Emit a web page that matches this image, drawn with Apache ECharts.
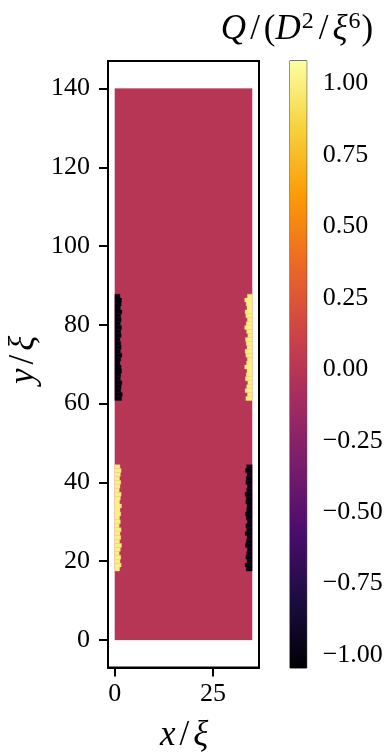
<!DOCTYPE html>
<html>
<head>
<meta charset="utf-8">
<script src="https://cdn.jsdelivr.net/npm/echarts@6/dist/echarts.min.js"></script>
<style>
html,body{margin:0;padding:0;background:#fff;}
#chart{width:387px;height:753px;}
</style>
</head>
<body>
<div id="chart"></div>
<script>
// ---- data ----
const domainX = [0, 35];
const domainY = [0, 140];
const backgroundQ = 0;
const xTicks = [0, 25];
const yTicks = [0, 20, 40, 60, 80, 100, 120, 140];
const cbarTicks = [-1.0, -0.75, -0.5, -0.25, 0.0, 0.25, 0.5, 0.75, 1.0];
const qRange = [-1.045, 1.079];
const rowHeight = 1;

// strips: start y, value, per-row widths (bottom to top)
const leftBlackY0 = 60.8;
const leftBlackQ = -1.0;
const leftBlackWidths = [1.7,1.9,1.5,1.6,1.8,1.4,1.5,1.7,1.6,1.3,1.5,1.8,1.4,1.6,1.5,1.3,1.6,1.5,1.7,1.4,1.6,1.5,1.8,1.4,1.6,1.7,1.3];
const rightYellowY0 = 60.8;
const rightYellowQ = 1.0;
const rightYellowWidths = [1.6,1.2,1.8,1.4,1.1,1.7,1.5,1.3,1.9,1.4,1.2,1.6,1.8,1.3,1.5,1.7,1.1,1.4,1.9,1.5,1.2,1.6,1.8,1.3,1.5,1.9,1.2];
const leftYellowY0 = 17.5;
const leftYellowQ = 1.0;
const leftYellowWidths = [1.2,1.6,1.3,1.5,1.1,1.4,1.7,1.2,1.5,1.3,1.6,1.1,1.4,1.2,1.5,1.3,1.7,1.2,1.4,1.6,1.1,1.3,1.5,1.2,1.4,1.6,1.3];
const rightBlackY0 = 17.5;
const rightBlackQ = -1.0;
const rightBlackWidths = [1.5,1.8,1.3,1.6,1.4,1.2,1.7,1.5,1.3,1.8,1.4,1.6,1.2,1.5,1.7,1.4,1.3,1.6,1.5,1.8,1.4,1.2,1.6,1.5,1.3,1.7,1.4];

const inferno = ['#000004','#1b0c41','#4a0c6b','#781c6d','#a52c60','#cf4446','#ed6925','#fb9b06','#f7d13d','#fcffa4'];

// ---- build cells [x0, x1, y0, y1, Q] ----
const cells = [[domainX[0], domainX[1], domainY[0], domainY[1], backgroundQ]];
function addStrip(y0, q, widths, side) {
  widths.forEach((w, i) => {
    const ya = y0 + i * rowHeight, yb = ya + rowHeight;
    if (side === 'left') cells.push([domainX[0], domainX[0] + w, ya, yb, q]);
    else cells.push([domainX[1] - w, domainX[1], ya, yb, q]);
  });
}
addStrip(leftBlackY0, leftBlackQ, leftBlackWidths, 'left');
addStrip(rightYellowY0, rightYellowQ, rightYellowWidths, 'right');
addStrip(leftYellowY0, leftYellowQ, leftYellowWidths, 'left');
addStrip(rightBlackY0, rightBlackQ, rightBlackWidths, 'right');

const chart = echarts.init(document.getElementById('chart'));
const SERIF = '"Liberation Serif", "DejaVu Serif", serif';
const tickFont = {fontFamily: SERIF, fontSize: 26, color: '#000'};
const fmtMinus = v => (v < 0 ? '\u2212' : '') + Math.abs(v).toFixed(2);

const gradStops = inferno.map((c, i) => ({offset: i / (inferno.length - 1), color: c}));

function mathRich(size) {
  return {
    i: {fontFamily: SERIF, fontStyle: 'italic', fontSize: size, fill: '#000', lineHeight: size * 1.3},
    n: {fontFamily: SERIF, fontSize: size, fill: '#000', lineHeight: size * 1.3},
    s: {fontFamily: SERIF, fontSize: size, fill: '#000', padding: [0, 4, 0, 4], lineHeight: size * 1.3},
    p: {fontFamily: SERIF, fontSize: Math.round(size * 0.68), fill: '#000', verticalAlign: 'top', padding: [2, 1, 0, 1]}
  };
}

chart.setOption({
  animation: false,
  backgroundColor: '#fff',
  grid: [
    {left: 108, top: 61, width: 151, height: 606.5, show: true, borderColor: '#000', borderWidth: 2, backgroundColor: 'transparent'},
    {left: 290, top: 60.7, width: 16.7, height: 607.3, show: true, borderColor: '#222', borderWidth: 1, backgroundColor: 'transparent'}
  ],
  xAxis: [
    {type: 'value', gridIndex: 0, min: -1.75, max: 36.75,
     axisLine: {show: true, onZero: false, lineStyle: {color: '#000', width: 2}},
     axisTick: {show: true, length: 9, lineStyle: {color: '#000', width: 2}, customValues: xTicks},
     axisLabel: Object.assign({margin: 14, customValues: xTicks, formatter: v => String(v)}, tickFont),
     splitLine: {show: false}},
    {type: 'value', gridIndex: 1, min: 0, max: 1, show: false}
  ],
  yAxis: [
    {type: 'value', gridIndex: 0, min: -7, max: 147,
     axisLine: {show: true, onZero: false, lineStyle: {color: '#000', width: 2}},
     axisTick: {show: true, length: 9, lineStyle: {color: '#000', width: 2}, customValues: yTicks},
     axisLabel: Object.assign({margin: 18, customValues: yTicks, formatter: v => String(v)}, tickFont),
     splitLine: {show: false}},
    {type: 'value', gridIndex: 1, position: 'right', min: qRange[0], max: qRange[1],
     axisLine: {show: false},
     axisTick: {show: true, length: 8, lineStyle: {color: '#000', width: 1.8}, customValues: cbarTicks},
     axisLabel: Object.assign({margin: 16, customValues: cbarTicks, formatter: fmtMinus}, tickFont),
     splitLine: {show: false}}
  ],
  visualMap: {
    type: 'continuous', show: false, seriesIndex: 0, dimension: 4,
    min: qRange[0], max: qRange[1], inRange: {color: inferno}
  },
  series: [
    {
      type: 'custom', xAxisIndex: 0, yAxisIndex: 0, clip: true,
      encode: {x: [0, 1], y: [2, 3]},
      data: cells,
      renderItem: function (params, api) {
        const p0 = api.coord([api.value(0), api.value(2)]);
        const p1 = api.coord([api.value(1), api.value(3)]);
        return {type: 'rect',
          shape: {x: p0[0], y: p1[1], width: p1[0] - p0[0], height: p0[1] - p1[1]},
          style: {fill: api.visual('color'), stroke: api.visual('color'), lineWidth: 0.3}};
      }
    },
    {
      type: 'custom', xAxisIndex: 1, yAxisIndex: 1, silent: true,
      encode: {x: [0, 1], y: [2, 3]},
      data: [[0, 1, qRange[0], qRange[1]]],
      renderItem: function (params, api) {
        const p0 = api.coord([api.value(0), api.value(2)]);
        const p1 = api.coord([api.value(1), api.value(3)]);
        return {type: 'rect',
          shape: {x: p0[0], y: p1[1], width: p1[0] - p0[0], height: p0[1] - p1[1]},
          style: {fill: new echarts.graphic.LinearGradient(0, 1, 0, 0, gradStops)}};
      }
    }
  ],
  graphic: [
    {type: 'text', x: 184, y: 736, style: {
      x: 0, y: 0, align: 'center', verticalAlign: 'middle',
      text: '{i|x}{s|/}{i|\u03be}', rich: mathRich(35)
    }},
    {type: 'text', rotation: Math.PI / 2, x: 24, y: 360, style: {
      x: 0, y: 0, align: 'center', verticalAlign: 'middle',
      text: '{i|y}{s|/}{i|\u03be}', rich: mathRich(35)
    }},
    {type: 'text', x: 297, y: 30, style: {
      x: 0, y: 0, align: 'center', verticalAlign: 'middle',
      text: '{i|Q}{s|/}{n|(}{i|D}{p|2}{s|/}{i|\u03be}{p|6}{n|)}', rich: mathRich(35)
    }}
  ]
});
</script>
</body>
</html>
